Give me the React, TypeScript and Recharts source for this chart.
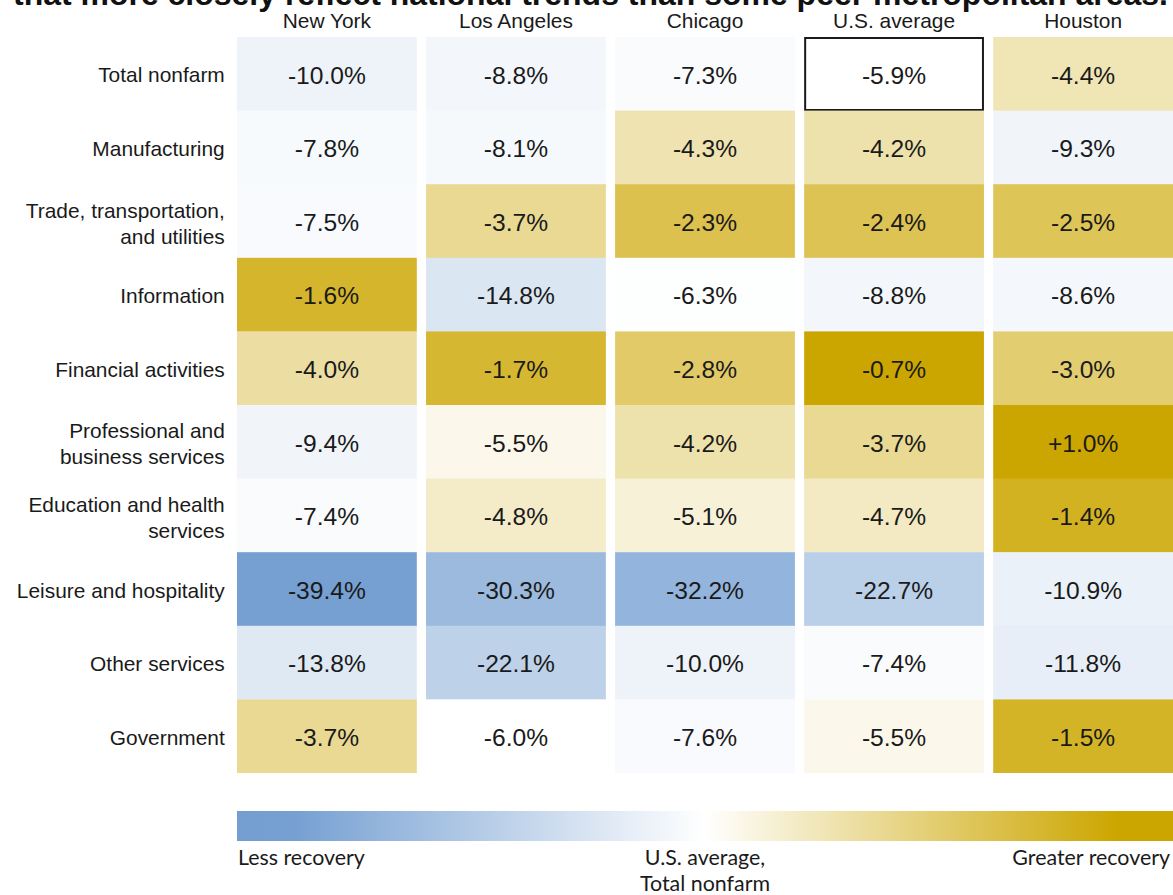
import React from "react";
import { BarChart, Bar, XAxis, YAxis } from "recharts";

// ---------- data ----------
const titleText =
  "that more closely reflect national trends than some peer metropolitan areas.";

const rowLabels = [
  "Total nonfarm",
  "Manufacturing",
  "Trade, transportation,\nand utilities",
  "Information",
  "Financial activities",
  "Professional and\nbusiness services",
  "Education and health\nservices",
  "Leisure and hospitality",
  "Other services",
  "Government",
];

const columnLabels = ["New York", "Los Angeles", "Chicago", "U.S. average", "Houston"];

const newYork = [-10.0, -7.8, -7.5, -1.6, -4.0, -9.4, -7.4, -39.4, -13.8, -3.7];
const losAngeles = [-8.8, -8.1, -3.7, -14.8, -1.7, -5.5, -4.8, -30.3, -22.1, -6.0];
const chicago = [-7.3, -4.3, -2.3, -6.3, -2.8, -4.2, -5.1, -32.2, -10.0, -7.6];
const usAverage = [-5.9, -4.2, -2.4, -8.8, -0.7, -3.7, -4.7, -22.7, -7.4, -5.5];
const houston = [-4.4, -9.3, -2.5, -8.6, -3.0, 1.0, -1.4, -10.9, -11.8, -1.5];

const columnValues = [newYork, losAngeles, chicago, usAverage, houston];

const legendLabels = ["Less recovery", "U.S. average,\nTotal nonfarm", "Greater recovery"];

// reference cell for the colour scale (U.S. average, Total nonfarm)
const referenceRow = "Total nonfarm";
const referenceColumn = "U.S. average";
const scaleMid = -5.9;
const scaleLow = -39.4;
const scaleHigh = -0.7;

// ---------- table for recharts ----------
const tableData = rowLabels.map((row, r) => {
  const o: Record<string, any> = { row };
  columnLabels.forEach((_, c) => {
    o["v" + c] = columnValues[c][r];
    o["span" + c] = 1;
  });
  return o;
});

// ---------- styles ----------
const FONT = "'Liberation Sans', Arial, Helvetica, sans-serif";
const LEGEND_FONT = "Lato, 'Open Sans', sans-serif";
const TEXT = "#1a1a1a";
const GAP = 9.25;
const BLUE = [118, 160, 210];
const GOLD = [204, 166, 0];

function mix(a: number[], t: number) {
  const c = a.map((v) => Math.round(255 + (v - 255) * t));
  return `rgb(${c[0]},${c[1]},${c[2]})`;
}

function cellColor(v: number) {
  if (v <= scaleMid) {
    const t = Math.min(1, (scaleMid - v) / (scaleMid - scaleLow));
    return mix(BLUE, t);
  }
  const t = Math.min(1, (v - scaleMid) / (scaleHigh - scaleMid));
  return mix(GOLD, t);
}

function fmt(v: number) {
  return (v > 0 ? "+" : "") + v.toFixed(1) + "%";
}

function makeShape(c: number) {
  return (props: any) => {
    const { x, y, width, height, payload } = props;
    const v = payload["v" + c];
    const isRef = payload.row === referenceRow && columnLabels[c] === referenceColumn;
    const cx = x + GAP + (width - GAP) / 2;
    return (
      <g>
        <rect x={x + GAP} y={y} width={width - GAP} height={height} fill={cellColor(v)} />
        {isRef && (
          <rect
            x={x + GAP + 1}
            y={y + 1}
            width={width - GAP - 2}
            height={height - 2}
            fill="none"
            stroke={TEXT}
            strokeWidth={2}
          />
        )}
        <text
          x={cx}
          y={y + height / 2 + 1}
          textAnchor="middle"
          dominantBaseline="central"
          fontFamily={FONT}
          fontSize={24.6}
          fill={TEXT}
        >
          {fmt(v)}
        </text>
      </g>
    );
  };
}

const RowTick = (props: any) => {
  const { x, y, payload } = props;
  const lines = String(payload.value).split("\n");
  const lh = 26;
  const start = y + 1 - ((lines.length - 1) * lh) / 2 + (lines.length > 1 ? 1 : 0);
  return (
    <text textAnchor="end" fontFamily={FONT} fontSize={20.9} fill={TEXT}>
      {lines.map((l, i) => (
        <tspan key={i} x={x} y={start + i * lh} dominantBaseline="central">
          {l}
        </tspan>
      ))}
    </text>
  );
};

const ColumnTick = (props: any) => {
  const { x, y, payload } = props;
  const label = columnLabels[Math.floor(payload.value)];
  return (
    <text
      x={x + GAP / 2}
      y={y - 9.5}
      textAnchor="middle"
      fontFamily={FONT}
      fontSize={20.9}
      fill={TEXT}
    >
      {label}
    </text>
  );
};

export default function App() {
  return (
    <div style={{ position: "relative", width: 1173, height: 895, overflow: "hidden", background: "#fff" }}>
      <style>{`html, body { margin: 0; padding: 0; overflow: hidden; }`}</style>
      <svg width={1173} height={30} style={{ position: "absolute", left: 0, top: 0 }}>
        <text
          x={13}
          y={5}
          fontFamily={FONT}
          fontWeight="bold"
          fontSize={31.7}
          fill="#111"
          textLength={1155}
          lengthAdjust="spacingAndGlyphs"
        >
          {titleText}
        </text>
      </svg>
      <div style={{ position: "absolute", left: 8, top: 8 }}>
        <BarChart
          width={1165}
          height={765}
          data={tableData}
          layout="vertical"
          barCategoryGap={0}
          margin={{ top: 0, right: 0, bottom: 0, left: 0 }}
        >
          <XAxis
            type="number"
            domain={[0, 5]}
            ticks={[0.5, 1.5, 2.5, 3.5, 4.5]}
            orientation="top"
            height={29}
            axisLine={false}
            tickLine={false}
            tickSize={0}
            tickMargin={0}
            interval={0}
            tick={<ColumnTick />}
          />
          <YAxis
            type="category"
            dataKey="row"
            width={219.75}
            axisLine={false}
            tickLine={false}
            tickSize={0}
            tickMargin={3}
            interval={0}
            tick={<RowTick />}
          />
          {columnLabels.map((col, c) => (
            <Bar
              key={col}
              dataKey={"span" + c}
              stackId="grid"
              isAnimationActive={false}
              shape={makeShape(c)}
            />
          ))}
        </BarChart>
      </div>
      <svg width={1165} height={122} style={{ position: "absolute", left: 8, top: 773 }}>
        <defs>
          <linearGradient id="recoveryScale" x1="0" y1="0" x2="1" y2="0">
            <stop offset="0%" stopColor="rgb(116,158,208)" />
            <stop offset="6%" stopColor="rgb(118,160,210)" />
            <stop offset="50%" stopColor="#ffffff" />
            <stop offset="94%" stopColor="rgb(204,166,0)" />
            <stop offset="100%" stopColor="rgb(204,166,0)" />
          </linearGradient>
        </defs>
        <rect x={229} y={38} width={936} height={30} fill="url(#recoveryScale)" />
        <text x={230} y={92} fontFamily={LEGEND_FONT} fontSize={21.4} fill={TEXT}>
          {legendLabels[0]}
        </text>
        <text x={697} y={92} textAnchor="middle" fontFamily={LEGEND_FONT} fontSize={21.4} fill={TEXT}>
          {legendLabels[1].split("\n").map((l, i) => (
            <tspan key={i} x={697} y={92 + i * 26}>
              {l}
            </tspan>
          ))}
        </text>
        <text x={1162} y={92} textAnchor="end" fontFamily={LEGEND_FONT} fontSize={21.4} fill={TEXT}>
          {legendLabels[2]}
        </text>
      </svg>
    </div>
  );
}
